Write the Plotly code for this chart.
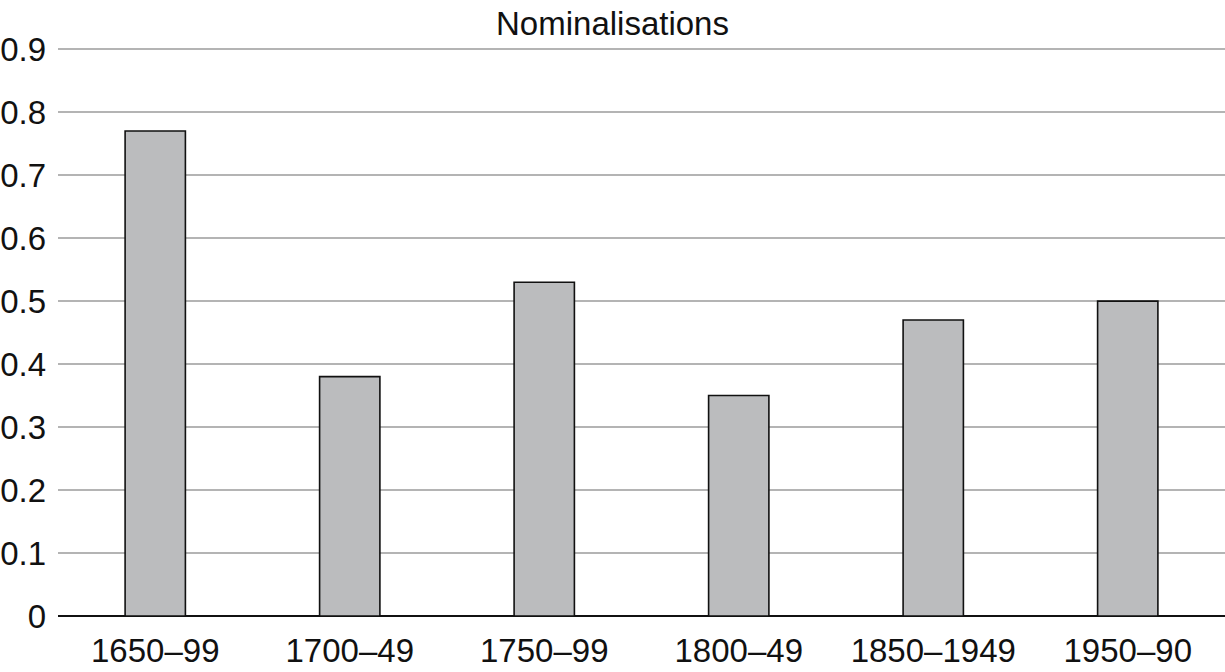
import plotly.graph_objects as go

categories = ["1650–99", "1700–49", "1750–99", "1800–49", "1850–1949", "1950–90"]
values = [0.77, 0.38, 0.53, 0.35, 0.47, 0.50]
y_ticks = [0, 0.1, 0.2, 0.3, 0.4, 0.5, 0.6, 0.7, 0.8, 0.9]
y_tick_labels = ["0", "0.1", "0.2", "0.3", "0.4", "0.5", "0.6", "0.7", "0.8", "0.9"]

fig = go.Figure(
    go.Bar(
        x=categories,
        y=values,
        marker=dict(color="#bbbcbe", line=dict(color="#111111", width=1.6)),
        width=0.31,
    )
)

FONT = "Liberation Sans, Arial, Helvetica, sans-serif"

fig.update_layout(
    width=1225,
    height=672,
    margin=dict(l=58, r=0, t=46, b=56, autoexpand=False),
    paper_bgcolor="white",
    plot_bgcolor="white",
    showlegend=False,
    font=dict(family=FONT, size=33, color="#111111"),
    title=dict(
        text="Nominalisations",
        x=0.5,
        xref="container",
        y=1 - 23 / 672,
        yref="container",
        xanchor="center",
        yanchor="middle",
        font=dict(family=FONT, size=33, color="#111111"),
    ),
)

fig.update_xaxes(
    showgrid=False,
    showline=False,
    ticks="",
    tickfont=dict(size=33),
    ticklabelstandoff=12,
    automargin=False,
)
fig.update_yaxes(
    range=[0, 0.905],
    tickvals=y_ticks,
    ticktext=y_tick_labels,
    showgrid=True,
    gridcolor="#b4b4b4",
    gridwidth=1.5,
    zeroline=True,
    zerolinecolor="#111111",
    zerolinewidth=1.6,
    showline=False,
    ticks="",
    tickfont=dict(size=33),
    ticklabelstandoff=11,
    automargin=False,
)

fig.write_html(
    "out.html",
    config={"displayModeBar": False},
    post_script="document.body.style.margin='0';document.body.style.overflow='hidden';",
)
